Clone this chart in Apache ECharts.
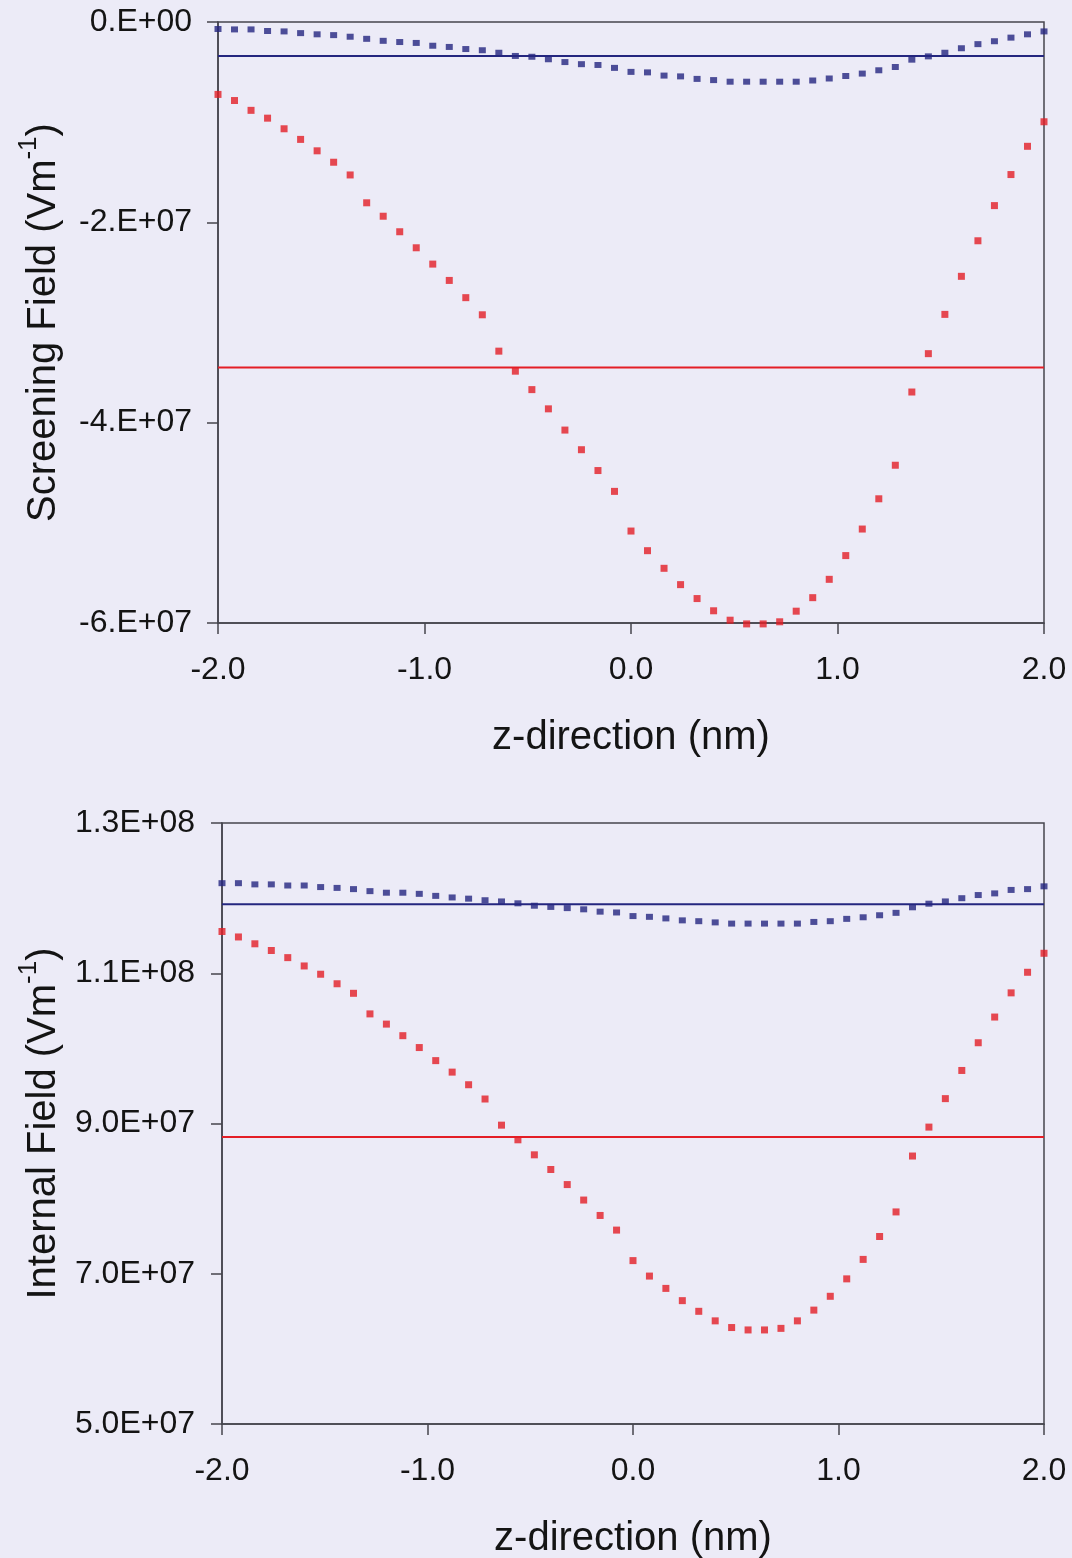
<!DOCTYPE html>
<html>
<head>
<meta charset="utf-8">
<script src="https://cdn.jsdelivr.net/npm/echarts@6/dist/echarts.min.js"></script>
<style>
  html, body { margin: 0; padding: 0; background: #ecebf7; }
  #chart { width: 1072px; height: 1558px; }
</style>
</head>
<body>
<div id="chart"></div>
<script>
// z positions (nm)
const zPositions = [-2.00,-1.92,-1.84,-1.76,-1.68,-1.60,-1.52,-1.44,-1.36,-1.28,-1.20,-1.12,-1.04,-0.96,-0.88,-0.80,-0.72,-0.64,-0.56,-0.48,-0.40,-0.32,-0.24,-0.16,-0.08,0.00,0.08,0.16,0.24,0.32,0.40,0.48,0.56,0.64,0.72,0.80,0.88,0.96,1.04,1.12,1.20,1.28,1.36,1.44,1.52,1.60,1.68,1.76,1.84,1.92,2.00];

// Screening field (V/m) – low density (blue) and high density (red)
const screenBlue = [-0.070e7,-0.074e7,-0.074e7,-0.090e7,-0.094e7,-0.111e7,-0.123e7,-0.131e7,-0.147e7,-0.168e7,-0.188e7,-0.200e7,-0.209e7,-0.237e7,-0.249e7,-0.270e7,-0.282e7,-0.307e7,-0.339e7,-0.347e7,-0.372e7,-0.400e7,-0.421e7,-0.429e7,-0.458e7,-0.498e7,-0.503e7,-0.535e7,-0.543e7,-0.568e7,-0.580e7,-0.596e7,-0.596e7,-0.596e7,-0.596e7,-0.596e7,-0.584e7,-0.564e7,-0.539e7,-0.515e7,-0.482e7,-0.449e7,-0.376e7,-0.343e7,-0.307e7,-0.262e7,-0.221e7,-0.192e7,-0.156e7,-0.123e7,-0.094e7];
const screenRed = [-0.723e7,-0.784e7,-0.882e7,-0.960e7,-1.066e7,-1.172e7,-1.286e7,-1.400e7,-1.527e7,-1.805e7,-1.939e7,-2.094e7,-2.254e7,-2.417e7,-2.580e7,-2.752e7,-2.923e7,-3.286e7,-3.486e7,-3.670e7,-3.862e7,-4.074e7,-4.270e7,-4.478e7,-4.686e7,-5.082e7,-5.278e7,-5.454e7,-5.617e7,-5.756e7,-5.878e7,-5.972e7,-6.009e7,-6.009e7,-5.988e7,-5.882e7,-5.747e7,-5.564e7,-5.327e7,-5.062e7,-4.760e7,-4.425e7,-3.694e7,-3.311e7,-2.919e7,-2.539e7,-2.184e7,-1.833e7,-1.523e7,-1.241e7,-0.996e7];
const screenBlueFlat = -0.339e7;
const screenRedFlat = -3.449e7;

// Internal field (V/m)
const internalBlue = [12.199e7,12.199e7,12.183e7,12.183e7,12.168e7,12.168e7,12.147e7,12.136e7,12.120e7,12.093e7,12.072e7,12.072e7,12.057e7,12.030e7,12.009e7,11.993e7,11.972e7,11.956e7,11.931e7,11.899e7,11.883e7,11.867e7,11.851e7,11.820e7,11.809e7,11.761e7,11.751e7,11.730e7,11.704e7,11.693e7,11.677e7,11.661e7,11.661e7,11.661e7,11.661e7,11.661e7,11.683e7,11.693e7,11.724e7,11.745e7,11.772e7,11.804e7,11.878e7,11.926e7,11.956e7,11.999e7,12.041e7,12.063e7,12.109e7,12.120e7,12.157e7];
const internalRed = [11.556e7,11.483e7,11.392e7,11.303e7,11.208e7,11.097e7,10.987e7,10.860e7,10.733e7,10.459e7,10.323e7,10.169e7,10.011e7,9.837e7,9.684e7,9.516e7,9.326e7,8.978e7,8.783e7,8.583e7,8.388e7,8.187e7,7.981e7,7.776e7,7.581e7,7.175e7,6.969e7,6.805e7,6.642e7,6.500e7,6.373e7,6.284e7,6.252e7,6.252e7,6.273e7,6.373e7,6.516e7,6.700e7,6.932e7,7.191e7,7.496e7,7.823e7,8.567e7,8.952e7,9.331e7,9.706e7,10.075e7,10.417e7,10.739e7,11.013e7,11.266e7];
const internalBlueFlat = 11.92e7;
const internalRedFlat = 8.82e7;

// Tick labels
const xTickLabels = ['-2.0','-1.0','0.0','1.0','2.0'];
const screenTickLabels = ['-6.E+07','-4.E+07','-2.E+07','0.E+00'];
const internalTickLabels = ['5.0E+07','7.0E+07','9.0E+07','1.1E+08','1.3E+08'];

const FONT = 'Liberation Sans';
const BLUE = '#24267f';
const RED = '#e41e26';
const AXIS = '#45454e';
const TEXT = '#141414';

function pairs(xs, ys) { return xs.map((x, i) => [x, ys[i]]); }
function flat(v) { return [[zPositions[0], v], [zPositions[zPositions.length - 1], v]]; }

const axisCommon = {
  axisLine: { show: true, onZero: false, lineStyle: { color: AXIS, width: 1.5 } },
  axisTick: { show: true, inside: false, length: 11, lineStyle: { color: AXIS, width: 1.5 } },
  splitLine: { show: false }
};

function xAxis(gridIndex) {
  return Object.assign({}, axisCommon, {
    type: 'value', gridIndex, min: -2, max: 2, interval: 1,
    axisLabel: {
      margin: 31, fontFamily: FONT, fontSize: 32, color: TEXT,
      formatter: (v) => xTickLabels[Math.round(v + 2)]
    },
    name: 'z-direction (nm)', nameLocation: 'middle', nameGap: 95,
    nameTextStyle: { fontFamily: FONT, fontSize: 40, color: TEXT }
  });
}

const nameRich = {
  n: { fontFamily: FONT, fontSize: 40, color: TEXT, lineHeight: 48, verticalAlign: 'bottom' },
  s: { fontFamily: FONT, fontSize: 26, color: TEXT, lineHeight: 48, verticalAlign: 'top' }
};

const opt = {
  backgroundColor: '#ecebf7',
  animation: false,
  grid: [
    { left: 218, right: 28, top: 22, height: 601, containLabel: false, outerBoundsMode: 'none',
      show: true, borderColor: AXIS, borderWidth: 1.5, backgroundColor: 'transparent' },
    { left: 222, right: 28, top: 823, height: 601, containLabel: false, outerBoundsMode: 'none',
      show: true, borderColor: AXIS, borderWidth: 1.5, backgroundColor: 'transparent' }
  ],
  xAxis: [xAxis(0), xAxis(1)],
  yAxis: [
    Object.assign({}, axisCommon, {
      type: 'value', gridIndex: 0, min: -6e7, max: 0, interval: 2e7,
      axisLabel: {
        margin: 26, fontFamily: FONT, fontSize: 32, color: TEXT,
        formatter: (v) => screenTickLabels[Math.round(v / 2e7) + 3]
      },
      name: '{n|Screening Field (Vm}{s|-1}{n|)}', nameLocation: 'middle', nameGap: 154, nameRotate: 90,
      nameTextStyle: { rich: nameRich }
    }),
    Object.assign({}, axisCommon, {
      type: 'value', gridIndex: 1, min: 5e7, max: 13e7, interval: 2e7,
      axisLabel: {
        margin: 27, fontFamily: FONT, fontSize: 32, color: TEXT,
        formatter: (v) => internalTickLabels[Math.round((v - 5e7) / 2e7)]
      },
      name: '{n|Internal Field (Vm}{s|-1}{n|)}', nameLocation: 'middle', nameGap: 158, nameRotate: 90,
      nameTextStyle: { rich: nameRich }
    })
  ],
  series: [
    { type: 'line', xAxisIndex: 0, yAxisIndex: 0, data: flat(screenBlueFlat), symbol: 'none',
      lineStyle: { color: BLUE, width: 2 }, z: 2 },
    { type: 'line', xAxisIndex: 0, yAxisIndex: 0, data: flat(screenRedFlat), symbol: 'none',
      lineStyle: { color: RED, width: 2 }, z: 2 },
    { type: 'scatter', xAxisIndex: 0, yAxisIndex: 0, data: pairs(zPositions, screenBlue), clip: false,
      symbol: 'rect', symbolSize: [7, 6], itemStyle: { color: BLUE }, z: 3 },
    { type: 'scatter', xAxisIndex: 0, yAxisIndex: 0, data: pairs(zPositions, screenRed), clip: false,
      symbol: 'rect', symbolSize: [7, 7], itemStyle: { color: RED }, z: 3 },

    { type: 'line', xAxisIndex: 1, yAxisIndex: 1, data: flat(internalBlueFlat), symbol: 'none',
      lineStyle: { color: BLUE, width: 2 }, z: 2 },
    { type: 'line', xAxisIndex: 1, yAxisIndex: 1, data: flat(internalRedFlat), symbol: 'none',
      lineStyle: { color: RED, width: 2 }, z: 2 },
    { type: 'scatter', xAxisIndex: 1, yAxisIndex: 1, data: pairs(zPositions, internalBlue), clip: false,
      symbol: 'rect', symbolSize: [7, 6], itemStyle: { color: BLUE }, z: 3 },
    { type: 'scatter', xAxisIndex: 1, yAxisIndex: 1, data: pairs(zPositions, internalRed), clip: false,
      symbol: 'rect', symbolSize: [7, 7], itemStyle: { color: RED }, z: 3 }
  ]
};

const chart = echarts.init(document.getElementById('chart'), null, { renderer: 'canvas' });
chart.setOption(opt);
</script>
</body>
</html>
